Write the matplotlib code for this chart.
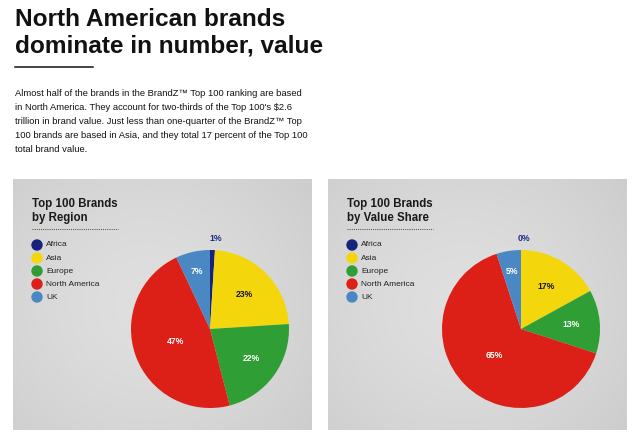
import numpy as np
import matplotlib
matplotlib.use("Agg")
import matplotlib.pyplot as plt
from matplotlib.patches import Ellipse
from matplotlib.lines import Line2D

# ---- data ----
regions = ["Africa", "Asia", "Europe", "North America", "UK"]
share_by_region = [1, 23, 22, 47, 7]
share_by_value = [0, 17, 13, 65, 5]
panel_titles = ["Top 100 Brands\nby Region", "Top 100 Brands\nby Value Share"]
headline = "North American brands\ndominate in number, value"
body = ("Almost half of the brands in the BrandZ\u2122 Top 100 ranking are based\n"
        "in North America. They account for two-thirds of the Top 100's $2.6\n"
        "trillion in brand value. Just less than one-quarter of the BrandZ\u2122 Top\n"
        "100 brands are based in Asia, and they total 17 percent of the Top 100\n"
        "total brand value.")

# ---- style ----
colors = ["#16237a", "#f4d60c", "#2f9e35", "#dc1f17", "#4a88c4"]
label_colors = ["#1c2a80", "#111111", "white", "white", "white"]
label_dist = [1.14, 0.62, 0.64, 0.47, 0.74]
SANS = ["Liberation Sans", "DejaVu Sans"]

W, H = 640, 440
fig = plt.figure(figsize=(W / 100, H / 100), dpi=100)
fig.patch.set_facecolor("white")

def fx(x):
    return x / W

def fy(y):
    return 1 - y / H

def rect(x0, y0, x1, y1):
    return [fx(x0), fy(y1), (x1 - x0) / W, (y1 - y0) / H]

renderer = fig.canvas.get_renderer()

def fit_width(txt, target):
    bb = txt.get_window_extent(renderer)
    txt.set_fontsize(txt.get_fontsize() * target / bb.width)

head = fig.text(fx(15), fy(8), headline, ha="left", va="top", fontsize=17.5,
                fontweight="bold", color="#111111", linespacing=1.2, family=SANS)
fit_width(head, 308.0)

fig.add_artist(Line2D([fx(15), fx(93)], [fy(67), fy(67)], color="#111111", lw=1.1))
bodytxt = fig.text(fx(15), fy(89.5), body, ha="left", va="top", fontsize=6.8,
                   family=SANS, color="#111111", linespacing=1.71)
fit_width(bodytxt, 294.0)

panels = [(13, 179, 312, 430), (328, 179, 627, 430)]
pie_centers = [(210, 329), (521, 329)]
R = 79
datasets = [share_by_region, share_by_value]

for k in range(2):
    x0, y0, x1, y1 = panels[k]
    bg = fig.add_axes(rect(x0, y0, x1, y1))
    gx, gy = np.meshgrid(np.linspace(-1, 1, 300), np.linspace(-1, 1, 260))
    d = np.sqrt((gx + 0.1) ** 2 + (gy * 0.9) ** 2)
    vals = 0.875 - 0.07 * np.clip(d / 1.4, 0, 1) ** 1.5
    bg.imshow(np.dstack([vals, vals, vals]), aspect="auto", extent=[0, 1, 0, 1],
              interpolation="bilinear")
    bg.set_xlim(0, 1)
    bg.set_ylim(0, 1)
    bg.axis("off")

    # panel title
    fig.text(fx(x0 + 19), fy(y0 + 19), panel_titles[k], ha="left", va="top",
             fontsize=8.3, fontweight="bold", family=SANS,
             color="#1a1a1a", linespacing=1.2)
    fig.add_artist(Line2D([fx(x0 + 19), fx(x0 + 105)], [fy(229), fy(229)],
                          color="#444444", lw=0.7, ls=(0, (1, 1.2))))
    # legend
    for i, name in enumerate(regions):
        cy = 245 + 13 * i
        fig.add_artist(Ellipse((fx(x0 + 24), fy(cy)), width=10 / W, height=10 / H,
                               color=colors[i], transform=fig.transFigure))
        fig.text(fx(x0 + 33), fy(cy), name, ha="left", va="center", fontsize=6,
                 family=SANS, color="#222222")

    cx, cy = pie_centers[k]
    ax = fig.add_axes(rect(cx - R, cy - R, cx + R, cy + R))
    wedges, _ = ax.pie(datasets[k], colors=colors, startangle=90, counterclock=False,
                       radius=1, wedgeprops=dict(linewidth=0))
    for i, w in enumerate(wedges):
        ang = np.deg2rad((w.theta1 + w.theta2) / 2)
        r = label_dist[i]
        ax.text(r * np.cos(ang) + (0.04 if i == 0 else 0), r * np.sin(ang),
                f"{datasets[k][i]}%", ha="center", va="center",
                fontsize=6.2, fontweight="bold", color=label_colors[i], family=SANS)
    ax.set_xlim(-1, 1)
    ax.set_ylim(-1, 1)
    ax.set_aspect("equal")
    ax.axis("off")

fig.savefig("out.png", dpi=100, facecolor="white")
